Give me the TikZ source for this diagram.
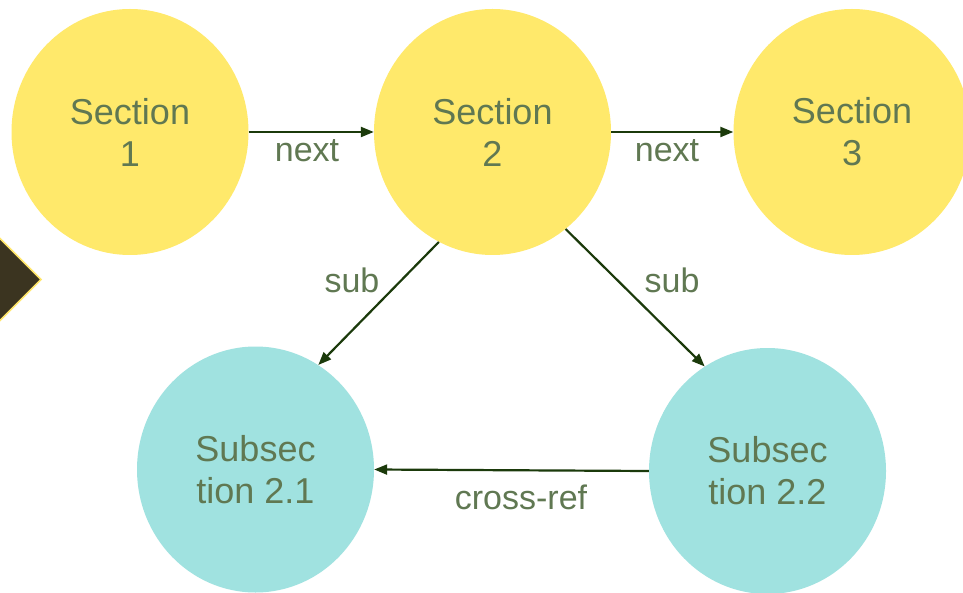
\documentclass[tikz,border=0pt]{standalone}
\usepackage{fontspec}
\setmainfont{Liberation Sans}
\usetikzlibrary{shapes.geometric,arrows.meta}
\definecolor{secfill}{HTML}{FFE96B}
\definecolor{subfill}{HTML}{A0E2E0}
\definecolor{txtcol}{HTML}{607852}
\definecolor{edgecol}{HTML}{1B3A0B}
\definecolor{diafill}{HTML}{3B3420}
\definecolor{diaedge}{HTML}{FFE66A}
\tikzset{
  sec/.style={ellipse, fill=secfill, minimum width=237pt, minimum height=246pt, inner sep=0pt,
    text=txtcol, align=center, font=\fontsize{36}{42}\selectfont},
  subsec/.style={sec, fill=subfill},
  conn/.style={draw=edgecol, line width=2.2pt, -{Triangle[length=13pt,width=10pt]}},
  elabel/.style={text=txtcol, font=\fontsize{34}{40}\selectfont, inner sep=0pt}
}
\begin{document}
\begin{tikzpicture}[x=1pt,y=-1pt]
\useasboundingbox (0,0) rectangle (963,593);
\clip (0,0) rectangle (963,593);
\fill[white] (0,0) rectangle (963,593);
\draw[fill=diafill, draw=diaedge, line width=1.5pt] (41,279.5) -- (-60,178.5) -- (-161,279.5) -- (-60,380.5) -- cycle;
\node[sec] (s1) at (130,132) {Section\\1};
\node[sec] (s2) at (492.5,132) {Section\\2};
\node[sec] (s3) at (852,132) {Section\\3};
\node[subsec] (s21) at (255.5,469.5) {Subsec\\tion 2.1};
\node[subsec] (s22) at (767.5,471) {Subsec\\tion 2.2};
\draw[conn] (s1.east) -- (s2.west);
\draw[conn] (s2.east) -- (s3.west);
\draw[conn] (s2.244.7) -- (s21.59.2);
\draw[conn] (s2.-53) -- (s22.121.8);
\draw[conn] (s22.west) -- (s21.east);
\node[elabel] (l1) at (307,151) {next};
\node[elabel] (l2) at (667,151) {next};
\node[elabel] (l3) at (352,280) {sub};
\node[elabel] (l4) at (672,280) {sub};
\node[elabel] (l5) at (521,497) {cross-ref};
\end{tikzpicture}
\end{document}
